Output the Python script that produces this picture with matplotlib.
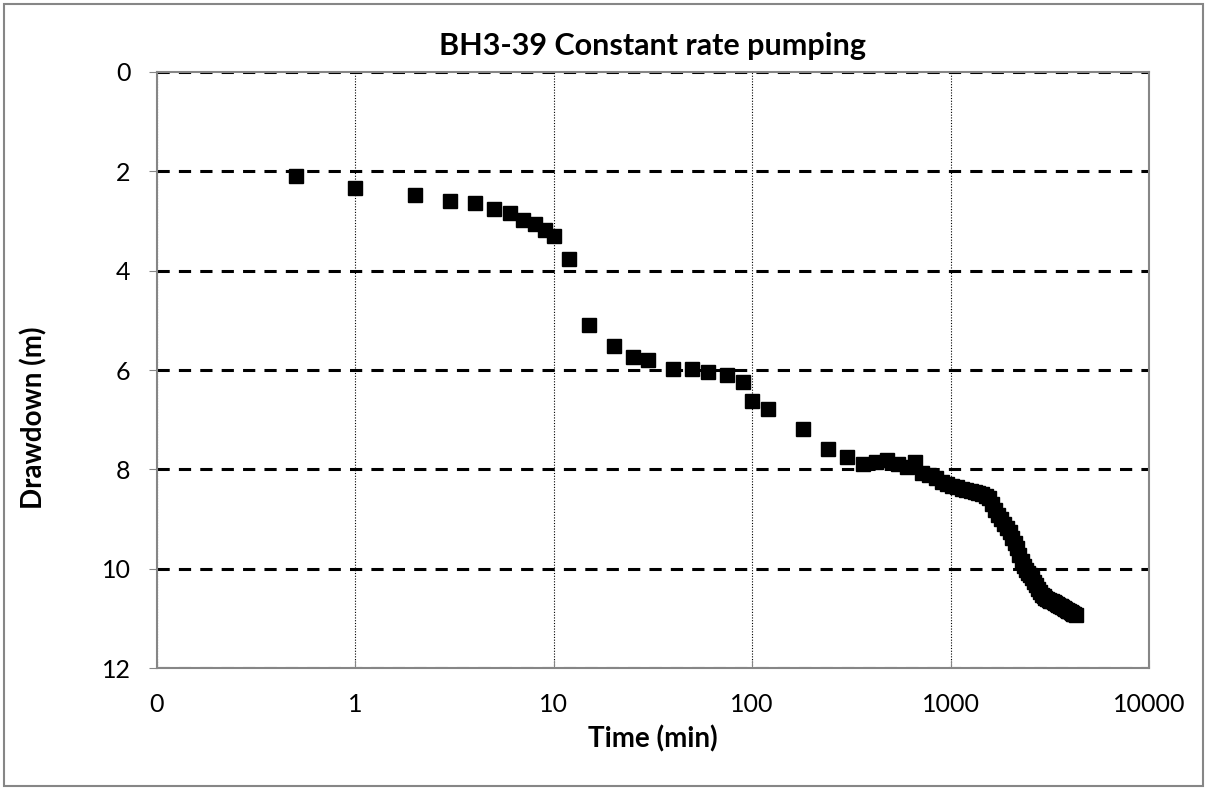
import matplotlib
matplotlib.use('Agg')
import matplotlib.pyplot as plt
from matplotlib.patches import Rectangle

plt.rcParams['font.family'] = ['Lato', 'DejaVu Sans']

# early readings (min, m)
t_early = [0.5, 1, 2, 3, 4, 5, 6, 7, 8, 9, 10, 12, 15, 20, 25, 30, 40, 50, 60, 75,
           90, 100, 120, 180, 240, 300, 360, 420, 480, 540, 600, 660]
s_early = [2.09, 2.34, 2.48, 2.59, 2.64, 2.76, 2.84, 2.98, 3.07, 3.18, 3.30, 3.77,
           5.09, 5.51, 5.74, 5.80, 5.97, 5.98, 6.03, 6.09, 6.25, 6.62, 6.79, 7.19,
           7.59, 7.75, 7.89, 7.85, 7.81, 7.89, 7.95, 7.86]

# hourly readings after 12 h
t_late = [720, 780, 840, 900, 960, 1020, 1080, 1140, 1200, 1260, 1320, 1380, 1440,
          1500, 1560, 1620, 1680, 1740, 1800, 1860, 1920, 1980, 2040, 2100, 2160,
          2220, 2280, 2340, 2400, 2460, 2520, 2580, 2640, 2700, 2760, 2820, 2880,
          2940, 3000, 3060, 3120, 3180, 3240, 3300, 3360, 3420, 3480, 3540, 3600,
          3660, 3720, 3780, 3840, 3900, 3960, 4020, 4080, 4140, 4200, 4260]
s_late = [8.07, 8.12, 8.18, 8.25, 8.29, 8.33, 8.36, 8.39, 8.41, 8.43, 8.45, 8.48, 8.50,
          8.53, 8.58, 8.70, 8.82, 8.92, 9.00, 9.10, 9.18, 9.26, 9.38, 9.47, 9.58,
          9.72, 9.85, 9.95, 10.02, 10.08, 10.13, 10.18, 10.26, 10.33, 10.40, 10.46, 10.52,
          10.55, 10.58, 10.60, 10.62, 10.64, 10.65, 10.67, 10.68, 10.70, 10.72, 10.74, 10.75,
          10.77, 10.79, 10.80, 10.82, 10.84, 10.85, 10.87, 10.88, 10.90, 10.91, 10.92]

xticks = [0.1, 1, 10, 100, 1000, 10000]
xtick_labels = ['0', '1', '10', '100', '1000', '10000']
yticks = [0, 2, 4, 6, 8, 10, 12]

fig = plt.figure(figsize=(12.07, 7.89), dpi=100)
ax = fig.add_axes([0.130, 0.153, 0.822, 0.756])

ax.plot(t_early + t_late, s_early + s_late, linestyle='none', marker='s',
        markersize=9.5, color='black', zorder=3)

ax.set_xscale('log')
ax.set_xlim(0.1, 10000)
ax.set_ylim(12, 0)
ax.set_xticks(xticks)
ax.set_xticklabels(xtick_labels)
ax.xaxis.set_minor_locator(matplotlib.ticker.NullLocator())
ax.set_yticks(yticks)

ax.grid(axis='y', color='black', linestyle=(0, (4, 3)), linewidth=2.2)
ax.grid(axis='x', color='black', linestyle=(0, (1, 1.5)), linewidth=0.8)
ax.set_axisbelow(True)

for sp in ax.spines.values():
    sp.set_color('#868686')
    sp.set_linewidth(1.5)
    sp.set_zorder(1)

ax.tick_params(axis='y', direction='out', length=6, color='#868686', labelsize=18, pad=13)
ax.tick_params(axis='x', direction='in', length=6, color='#868686', labelsize=18, pad=18)

ax.set_title('BH3-39 Constant rate pumping', fontsize=22, fontweight='bold', pad=12)
ax.set_xlabel('Time (min)', fontsize=20, fontweight='bold')
ax.set_ylabel('Drawdown (m)', fontsize=20, fontweight='bold')
ax.xaxis.set_label_coords(0.5, -0.095)
ax.yaxis.set_label_coords(-0.110, 0.42)

# chart border
fig.patches.append(Rectangle((0.0035, 0.004), 0.9935, 0.991, transform=fig.transFigure,
                             fill=False, edgecolor='#868686', linewidth=1.5))

fig.savefig('out.png', dpi=100)
